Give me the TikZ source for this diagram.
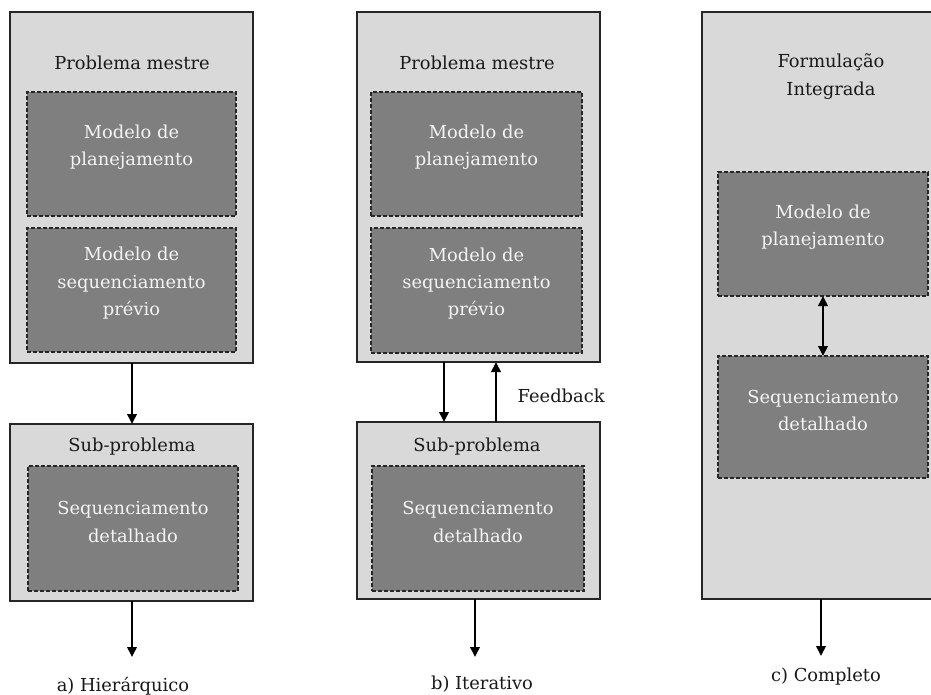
\documentclass[tikz,border=0pt]{standalone}
\usepackage{fontspec}
\setmainfont{DejaVu Serif}
\usetikzlibrary{fit,arrows.meta}
\definecolor{outerfill}{HTML}{D9D9D9}
\definecolor{innerfill}{HTML}{7F7F7F}
\definecolor{innertext}{HTML}{F4F4F4}
\begin{document}
\begin{tikzpicture}[x=0.75pt,y=-0.75pt,
  outerbox/.style={draw=black!85,line width=1.1pt,fill=outerfill,inner sep=0pt,outer sep=0pt},
  innerbox/.style={draw=black!85,dash pattern=on 3pt off 1.5pt,line width=0.8pt,fill=innerfill,inner sep=0pt,outer sep=0pt,
     text=innertext,align=center,font=\fontsize{13.4}{20.5}\selectfont},
  title/.style={align=center,text=black!90,font=\fontsize{13.4}{21}\selectfont},
  caption/.style={text=black!90,font=\fontsize{13.4}{15}\selectfont},
  flow/.style={line width=2pt,-{Triangle[length=7.5pt,width=7pt]}},
  twoway/.style={line width=2pt,{Triangle[length=7.5pt,width=7pt]}-{Triangle[length=7.5pt,width=7pt]}}
]
\clip (0,0) rectangle (931,695);
\fill[white] (0,0) rectangle (931,695);

% ---------- a) Hierarquico ----------
\node[outerbox,fit={(10,12)(253,363)}] (Am) {};
\node[title] (Amt) at (132,63) {Problema mestre};
\node[innerbox,fit={(27,92)(236,216)}] (Aplan) {Modelo de\\planejamento};
\node[innerbox,fit={(27,228)(236,352)}] (Aseq) {Modelo de\\sequenciamento\\prévio};
\node[outerbox,fit={(10,424)(253,601)}] (As) {};
\node[title] (Ast) at (132,447) {Sub-problema};
\node[innerbox,fit={(28,466)(238,591)}] (Adet) {Sequenciamento\\detalhado};
\coordinate (Aend) at (132,657);
\node[caption] (Acap) at (123,686) {a) Hierárquico};
\draw[flow] (Am.south -| 132,0) -- (As.north -| 132,0);
\draw[flow] (As.south -| Aend) -- (Aend);

% ---------- b) Iterativo ----------
\node[outerbox,fit={(357,12)(600,362)}] (Bm) {};
\node[title] (Bmt) at (477,63) {Problema mestre};
\node[innerbox,fit={(371,92)(582,216)}] (Bplan) {Modelo de\\planejamento};
\node[innerbox,fit={(371,228)(582,353)}] (Bseq) {Modelo de\\sequenciamento\\prévio};
\node[outerbox,fit={(357,422)(600,599)}] (Bs) {};
\node[title] (Bst) at (477,447) {Sub-problema};
\node[innerbox,fit={(372,466)(584,591)}] (Bdet) {Sequenciamento\\detalhado};
\coordinate (Bend) at (475,657);
\node[caption] (Bcap) at (482,684) {b) Iterativo};
\draw[flow] (Bm.south -| 444,0) -- (Bs.north -| 444,0);
\draw[flow] (Bs.north -| 496,0) -- (Bm.south -| 496,0);
\node[caption,anchor=west] (Bfb) at (513,396) {Feedback};
\draw[flow] (Bs.south -| Bend) -- (Bend);

% ---------- c) Completo ----------
\node[outerbox,fit={(702,12)(945,599)}] (Cm) {};
\node[title] (Cmt) at (831,77) {Formulação\\Integrada};
\node[innerbox,fit={(718,172)(928,296)}] (Cplan) {Modelo de\\planejamento};
\node[innerbox,fit={(718,356)(928,478)}] (Cdet) {Sequenciamento\\detalhado};
\coordinate (Cend) at (821,656);
\node[caption] (Ccap) at (826,677) {c) Completo};
\draw[twoway] (Cplan.south -| 823,0) -- (Cdet.north -| 823,0);
\draw[flow] (Cm.south -| Cend) -- (Cend);
\end{tikzpicture}
\end{document}
